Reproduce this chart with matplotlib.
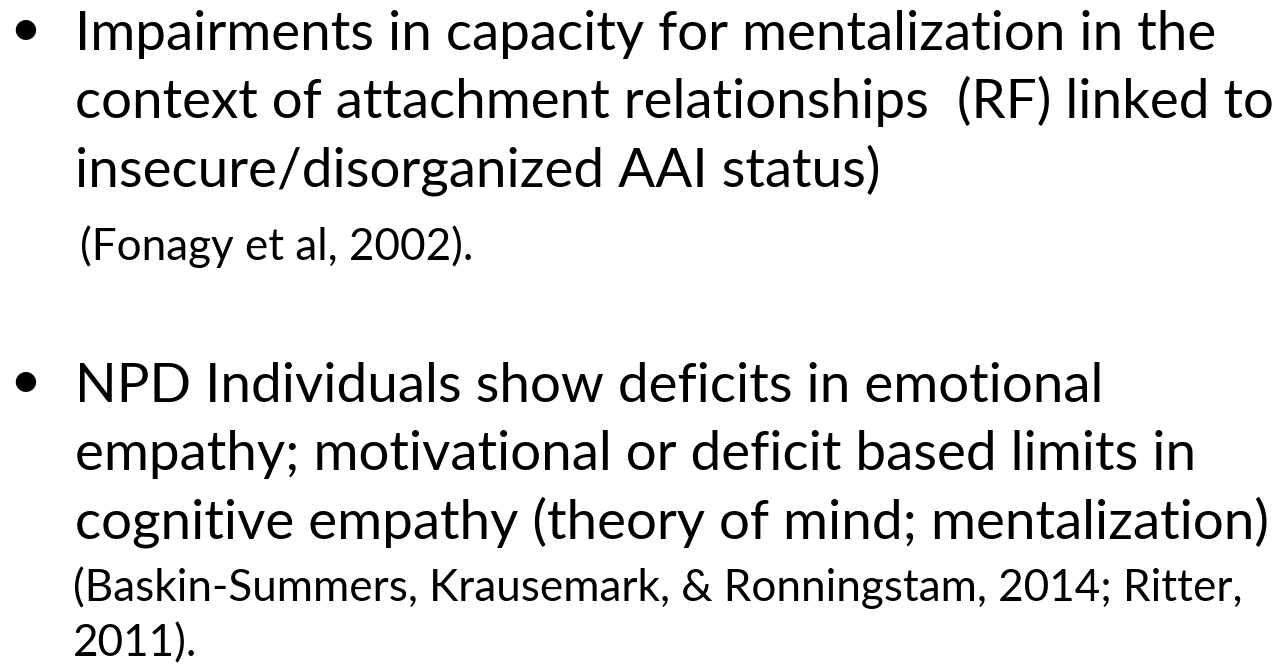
import matplotlib
matplotlib.use("Agg")
import matplotlib.pyplot as plt

# slide text, one entry per rendered line
bullet_one = [
    "Impairments in capacity for mentalization in the",
    "context of attachment relationships  (RF) linked to",
    "insecure/disorganized AAI status)",
]
cite_one = ["(Fonagy et al, 2002)."]

bullet_two = [
    "NPD Individuals show deficits in emotional",
    "empathy; motivational or deficit based limits in",
    "cognitive empathy (theory of mind; mentalization)",
]
cite_two = [
    "(Baskin-Summers, Krausemark, & Ronningstam, 2014; Ritter,",
    "2011).",
]

W, H = 1282, 664
FONT = "Lato"
MAIN = 39.4
CITE = 31.7

fig = plt.figure(figsize=(W / 100, H / 100), dpi=100)
ax = fig.add_axes([0, 0, 1, 1])
ax.set_xlim(0, W)
ax.set_ylim(H, 0)
ax.axis("off")


def put_block(lines, cites, base, cite_gap, cite_x):
    ax.text(25, base - 20, "\u2022", fontsize=MAIN, family=FONT,
            ha="center", va="center")
    y = base
    for line in lines:
        ax.text(75, y, line, fontsize=MAIN, family=FONT, va="baseline")
        y += 68
    y += cite_gap - 68
    for line in cites:
        ax.text(cite_x, y, line, fontsize=CITE, family=FONT, va="baseline")
        cite_x = 73
        y += 55


put_block(bullet_one, cite_one, 50, 74, 80)
put_block(bullet_two, cite_two, 402, 63, 73)

fig.savefig("out.png", dpi=100)
